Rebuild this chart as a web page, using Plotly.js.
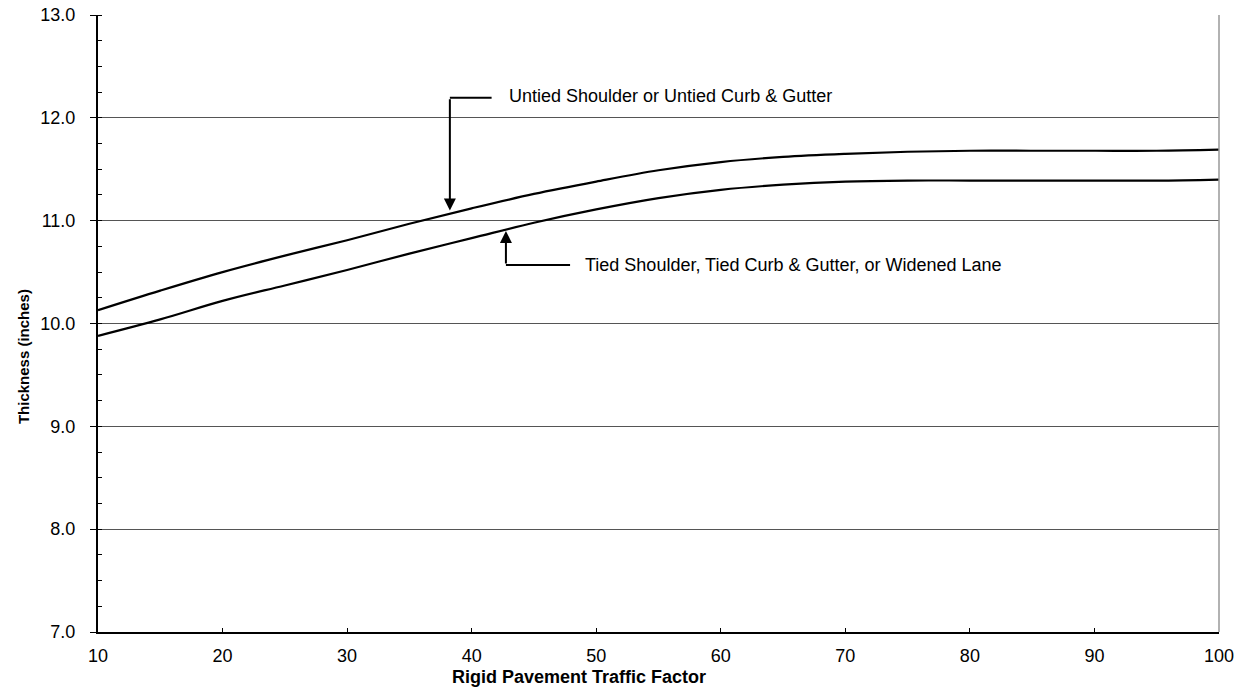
<!DOCTYPE html>
<html>
<head>
<meta charset="utf-8">
<script src="https://cdn.plot.ly/plotly-3.0.1.min.js"></script>
<style>html,body{margin:0;padding:0;background:#fff;}#chart{width:1247px;height:691px;}</style>
</head>
<body>
<div id="chart"></div>
<script>
// Data
const trafficFactor = [10, 15, 20, 25, 30, 35, 40, 45, 50, 55, 60, 65, 70, 75, 80, 85, 90, 95, 100];
const untiedThickness = [10.13, 10.32, 10.50, 10.66, 10.81, 10.97, 11.12, 11.26, 11.38, 11.49, 11.57, 11.62, 11.65, 11.67, 11.68, 11.68, 11.68, 11.68, 11.69];
const tiedThickness = [9.88, 10.04, 10.22, 10.37, 10.52, 10.68, 10.83, 10.98, 11.11, 11.22, 11.30, 11.35, 11.38, 11.39, 11.39, 11.39, 11.39, 11.39, 11.40];
const xTickVals = [10, 20, 30, 40, 50, 60, 70, 80, 90, 100];
const yTickVals = [7, 8, 9, 10, 11, 12, 13];
const untiedLabel = "Untied Shoulder or Untied Curb & Gutter";
const tiedLabel = "Tied Shoulder, Tied Curb & Gutter, or Widened Lane";
const xTitle = "Rigid Pavement Traffic Factor";
const yTitle = "Thickness (inches)";

const FONT = "Liberation Sans, Arial, sans-serif";

const traces = [
  {x: trafficFactor, y: untiedThickness, mode: 'lines', line: {color: '#000', width: 2.2, shape: 'spline', smoothing: 1}, hoverinfo: 'skip', showlegend: false},
  {x: trafficFactor, y: tiedThickness, mode: 'lines', line: {color: '#000', width: 2.2, shape: 'spline', smoothing: 1}, hoverinfo: 'skip', showlegend: false}
];

// Callout geometry (annotation placement)
const upCorner = {x: 38.25, y: 12.195}, upTip = {x: 38.25, y: 11.10}, upEnd = {x: 41.6};
const loCorner = {x: 42.75, y: 10.57}, loTip = {x: 42.75, y: 10.90}, loEnd = {x: 47.9};

const layout = {
  width: 1247, height: 691,
  margin: {l: 98, r: 28, t: 15, b: 59},
  paper_bgcolor: '#fff', plot_bgcolor: '#fff',
  font: {family: FONT, color: '#000', size: 18},
  xaxis: {
    range: [10, 100], tickvals: xTickVals, ticktext: xTickVals.map(String),
    showgrid: false, zeroline: false,
    showline: true, linecolor: '#000', linewidth: 2,
    ticks: 'inside', ticklen: 4, tickcolor: '#000', tickwidth: 1,
    ticklabelstandoff: 6,
    tickfont: {family: FONT, size: 18, color: '#000'}
  },
  yaxis: {
    range: [7, 13], tickvals: yTickVals, ticktext: yTickVals.map(v => v.toFixed(1)),
    showgrid: true, gridcolor: '#555', gridwidth: 1, zeroline: false,
    showline: true, linecolor: '#000', linewidth: 2,
    ticks: 'outside', ticklen: 6, tickcolor: '#000', tickwidth: 1,
    ticklabelstandoff: 11,
    tickfont: {family: FONT, size: 18, color: '#000'},
    minor: {dtick: 0.25, ticks: 'inside', ticklen: 4, tickcolor: '#000', tickwidth: 1, showgrid: false}
  },
  shapes: [
    {type: 'line', xref: 'paper', yref: 'paper', x0: 1, x1: 1, y0: 0, y1: 1, line: {color: '#999', width: 1.5}},
    {type: 'line', xref: 'x', yref: 'y', x0: upCorner.x, x1: upEnd.x, y0: upCorner.y, y1: upCorner.y, line: {color: '#000', width: 2}},
    {type: 'line', xref: 'x', yref: 'y', x0: loCorner.x, x1: loEnd.x, y0: loCorner.y, y1: loCorner.y, line: {color: '#000', width: 2}}
  ],
  annotations: [
    {x: upTip.x, y: upTip.y, xref: 'x', yref: 'y', axref: 'x', ayref: 'y', ax: upCorner.x, ay: upCorner.y, text: '', showarrow: true, arrowhead: 2, arrowsize: 1.2, arrowwidth: 2, arrowcolor: '#000'},
    {x: loTip.x, y: loTip.y, xref: 'x', yref: 'y', axref: 'x', ayref: 'y', ax: loCorner.x, ay: loCorner.y, text: '', showarrow: true, arrowhead: 2, arrowsize: 1.2, arrowwidth: 2, arrowcolor: '#000'},
    {x: 42.8, y: 12.215, xref: 'x', yref: 'y', xanchor: 'left', yanchor: 'middle', text: untiedLabel, showarrow: false, font: {family: FONT, size: 18, color: '#000'}},
    {x: 48.9, y: 10.57, xref: 'x', yref: 'y', xanchor: 'left', yanchor: 'middle', text: tiedLabel, showarrow: false, font: {family: FONT, size: 18, color: '#000'}},
    {x: 0.429, y: -0.073, xref: 'paper', yref: 'paper', xanchor: 'center', yanchor: 'middle', text: '<b>' + xTitle + '</b>', showarrow: false, font: {family: FONT, size: 18, color: '#000'}},
    {x: -0.067, y: 0.447, xref: 'paper', yref: 'paper', xanchor: 'center', yanchor: 'middle', textangle: -90, text: '<b>' + yTitle + '</b>', showarrow: false, font: {family: FONT, size: 15, color: '#000'}}
  ]
};

Plotly.newPlot('chart', traces, layout, {displayModeBar: false, staticPlot: true});
</script>
</body>
</html>
